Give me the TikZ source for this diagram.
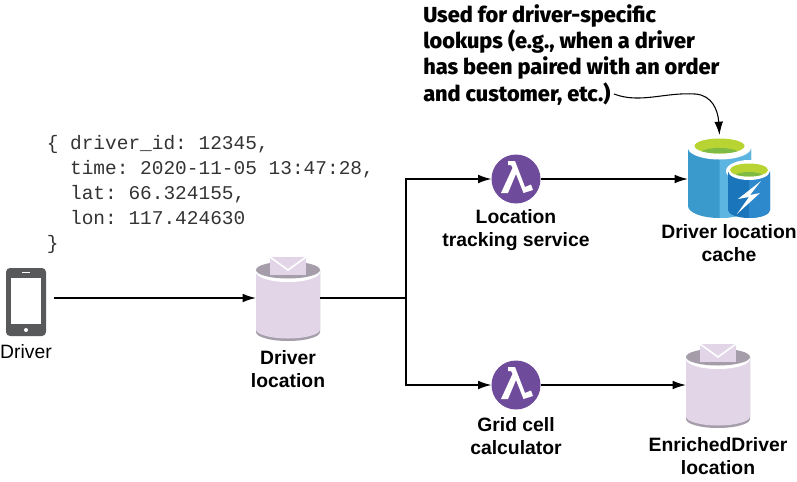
\documentclass[tikz,border=0pt]{standalone}
\usepackage{fontspec}
\setmainfont{Liberation Sans}
\setmonofont{Liberation Mono}
\newfontfamily\notefont{Fira Sans ExtraBold}
\usetikzlibrary{arrows.meta,positioning}
\definecolor{lilac}{HTML}{E1D5E7}
\definecolor{lilacdark}{HTML}{A59DAA}
\definecolor{phonegrey}{HTML}{58595B}
\definecolor{lampurple}{HTML}{6F4C9B}
\definecolor{cacheleft}{HTML}{3A9ACB}
\definecolor{cacheright}{HTML}{5CB4E0}
\definecolor{fastleft}{HTML}{1B75BB}
\definecolor{fastright}{HTML}{2D89CC}
\definecolor{limetop}{HTML}{B8D432}
\definecolor{limelow}{HTML}{7FBA42}
\def\px{.75pt}

\begin{document}
\begin{tikzpicture}[x=.75pt, y=-.75pt,
  arr/.style={-{Latex[length=10pt,width=6.5pt]}, line width=1.1pt},
  lbl/.style={font=\bfseries\fontsize{14.5}{17.25}\selectfont, align=center, inner sep=0pt, anchor=base},
  queuebox/.style={minimum width=64*\px, minimum height=86*\px, inner sep=0pt, outer sep=0pt},
  lambdabox/.style={circle, fill=lampurple, minimum size=49*\px, inner sep=0pt, outer sep=0pt},
  cachebox/.style={minimum width=63*\px, minimum height=88*\px, inner sep=0pt, outer sep=0pt},
  queue/.pic={
    \fill[lilacdark] (-32,-28) -- (-32,34) arc[start angle=180, end angle=0, x radius=32, y radius=9] -- (32,-28) -- cycle;
    \fill[lilac] (-32,-28) -- (-32,31.5) arc[start angle=180, end angle=0, x radius=32, y radius=9] -- (32,-28) -- cycle;
    \fill[white] (0,-26) ellipse[x radius=32, y radius=10];
    \fill[lilacdark] (0,-28) ellipse[x radius=32, y radius=8.5];
    \fill[lilac] (-18,-41) rectangle (18,-23);
    \draw[white, line width=1.2pt] (-18,-41) -- (0,-28) -- (18,-41);
  },
  lambdaicon/.pic={
    \fill[white] (-8,-18) -- (-1,-18) -- (9,8) -- (15,5.5) -- (17,11) -- (7.5,14) -- (0,-5) -- (-8,14) -- (-15,14) -- (-3.5,-11) -- (-5,-14) -- (-8,-14) -- cycle;
  }
]
\useasboundingbox (0,0) rectangle (797,482);

% nodes
\node[minimum width=40*\px, minimum height=68*\px, fill=phonegrey, rounded corners=3pt, inner sep=0pt, outer sep=0pt] (drv) at (26,302) {};
\node[minimum width=30*\px, minimum height=46*\px, fill=white, inner sep=0pt] (screen) at (26,301) {};
\fill[white] (26,330) circle (2);
\draw[white, line width=.6pt] (22,272.5) -- (30,272.5);
\node[inner sep=0pt, font=\fontsize{14.5}{17}\selectfont, anchor=base] (drvlbl) at (26,358) {Driver};

\node[queuebox] (Q1) at (288,298) {};
\pic at (Q1) {queue};
\node[lbl] (Q1lbl) at (288,387) {Driver\\location};

\node[lambdabox] (L1) at (516,179) {};
\pic at (L1) {lambdaicon};
\node[lbl] (L1lbl) at (516,246) {Location\\tracking service};

\node[lambdabox] (L2) at (516,385) {};
\pic at (L2) {lambdaicon};
\node[lbl] (L2lbl) at (516,454) {Grid cell\\calculator};

\node[queuebox] (Q2) at (718,385) {};
\pic at (Q2) {queue};
\node[lbl] (Q2lbl) at (718,474) {EnrichedDriver\\location};

\node[cachebox] (C) at (719.5,179) {};
% big cylinder
\fill[cacheleft] (688,148) -- (688,206) arc[start angle=180, end angle=0, x radius=31.5, y radius=12] -- (751,148) -- cycle;
\fill[cacheright] (719.5,150) -- (751,150) -- (751,206) arc[start angle=0, end angle=90, x radius=31.5, y radius=12] -- cycle;
\fill[white] (719.5,148) ellipse[x radius=31.5, y radius=11.5];
\fill[limetop] (719.5,146) ellipse[x radius=25, y radius=7.5];
\begin{scope}
  \clip (719.5,146) ellipse[x radius=25, y radius=7.5];
  \fill[limelow] (719.5,153) ellipse[x radius=19, y radius=5];
\end{scope}
% small cylinder
\fill[white] (749,171) ellipse[x radius=23, y radius=11];
\fill[fastleft] (728,171) -- (728,210) arc[start angle=180, end angle=0, x radius=21, y radius=8] -- (770,171) -- cycle;
\fill[fastright] (749,175) -- (770,175) -- (770,210) arc[start angle=0, end angle=90, x radius=21, y radius=8] -- cycle;
\fill[white] (749,171) ellipse[x radius=21, y radius=9];
\fill[limetop] (749,170) ellipse[x radius=19, y radius=6.5];
\begin{scope}
  \clip (749,170) ellipse[x radius=19, y radius=6.5];
  \fill[limelow] (749,176) ellipse[x radius=14, y radius=4];
\end{scope}
\fill[white] (761,181) -- (738,199) -- (749,197) -- (737,214) -- (760,193) -- (750,195) -- cycle;

\node[lbl] (Clbl) at (729,261) {Driver location\\cache};

% payload
\node[inner sep=0pt, anchor=north west, align=left, text=black!80, font=\ttfamily\fontsize{14.6}{18.7}\selectfont] (payload) at (46.5,135)
  {\{ driver\_id: 12345,\\
   \ \ time: 2020-11-05 13:47:28,\\
   \ \ lat: 66.324155,\\
   \ \ lon: 117.424630\\
   \}};

% note
\node[inner sep=0pt, anchor=north west, align=left, font=\notefont\fontsize{16.3}{19.8}\selectfont] (note) at (423,4)
  {Used for driver-specific\\
   lookups (e.g., when a driver\\
   has been paired with an order\\
   and customer, etc.)};

% connectors
\coordinate (J) at (406,298);
\coordinate (noteend) at (614,94);
\coordinate (bend) at (695,94);
\draw[arr, shorten <=6pt] (drv.east |- Q1.west) -- (Q1.west);
\draw[line width=1.1pt] (Q1.east) -- (J);
\draw[arr] (J) |- (L1.west);
\draw[arr] (J) |- (L2.west);
\draw[arr] (L1.east) -- (C.west);
\draw[arr] (L2.east) -- (Q2.west);
\draw[arr, line width=.8pt] (noteend) .. controls (640,104) and (665,92) .. (bend) .. controls (712,95) and (718,110) .. (C.north);
\end{tikzpicture}
\end{document}
